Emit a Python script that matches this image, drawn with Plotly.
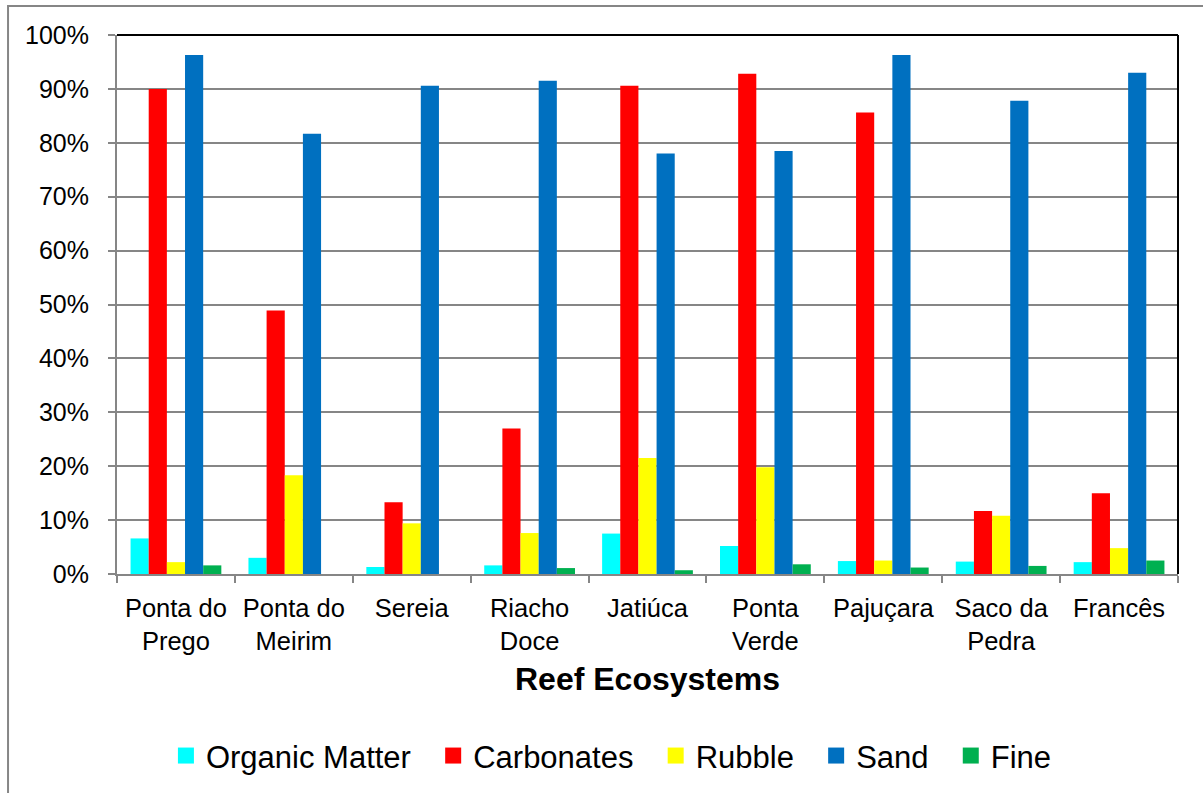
import plotly.graph_objects as go

# Sediment composition of reef ecosystems (percent)
sites = ["Ponta do<br>Prego", "Ponta do<br>Meirim", "Sereia", "Riacho<br>Doce", "Jatiúca",
         "Ponta<br>Verde", "Pajuçara", "Saco da<br>Pedra", "Francês"]

organic_matter = [6.6, 3.0, 1.3, 1.6, 7.5, 5.2, 2.4, 2.3, 2.2]
carbonates = [90.0, 48.9, 13.3, 27.0, 90.6, 92.8, 85.6, 11.7, 15.0]
rubble = [2.2, 18.3, 9.4, 7.6, 21.5, 19.8, 2.5, 10.8, 4.8]
sand = [96.3, 81.7, 90.6, 91.5, 78.0, 78.5, 96.3, 87.8, 93.0]
fine = [1.6, 0.0, 0.0, 1.1, 0.7, 1.8, 1.2, 1.5, 2.5]

series = [
    ("Organic Matter", organic_matter, "#00FFFF"),
    ("Carbonates", carbonates, "#FF0000"),
    ("Rubble", rubble, "#FFFF00"),
    ("Sand", sand, "#0070C0"),
    ("Fine", fine, "#00B050"),
]

FONT = "Arial, Liberation Sans, sans-serif"
GRID = "#868686"
PAD = "\u00a0\u00a0"  # extra room after each legend label

fig = go.Figure()
for i, (name, vals, color) in enumerate(series):
    fig.add_trace(go.Bar(
        x=sites, y=[v / 100 for v in vals], name=name,
        marker=dict(color=color, line=dict(width=0)),
        legendgroup=name, showlegend=False,
    ))
for i, (name, vals, color) in enumerate(series):
    # square swatch for the legend entry of each series
    label = name + (PAD if i < len(series) - 1 else "")
    fig.add_trace(go.Scatter(
        x=[None], y=[None], mode="markers", name=label, legendgroup=name,
        marker=dict(symbol="square", size=17, color=color, line=dict(width=0)),
        hoverinfo="skip",
    ))

fig.update_layout(
    width=1203, height=793,
    margin=dict(l=117, r=25, t=35, b=218),
    paper_bgcolor="white", plot_bgcolor="white",
    barmode="group", bargap=0.23, bargroupgap=0,
    font=dict(family=FONT, color="black"),
    showlegend=True,
    legend=dict(
        orientation="h", x=0.466, xanchor="center", y=-0.335, yanchor="middle",
        font=dict(size=31, family=FONT), itemsizing="trace", tracegroupgap=0,
    ),
    xaxis=dict(
        showline=True, linecolor=GRID, linewidth=2,
        ticks="outside", ticklen=7, tickcolor=GRID, tickwidth=2,
        tickson="boundaries",
        tickfont=dict(size=25.5, family=FONT),
        ticklabelstandoff=10,
        title=dict(text="<b>Reef Ecosystems</b>", font=dict(size=32, family=FONT), standoff=14),
        automargin=False,
    ),
    yaxis=dict(
        range=[0, 1], tickformat=".0%", dtick=0.1,
        showgrid=True, gridcolor=GRID, gridwidth=2,
        showline=True, linecolor=GRID, linewidth=2,
        ticks="outside", ticklen=7, tickcolor=GRID, tickwidth=2,
        tickfont=dict(size=25, family=FONT),
        ticklabelstandoff=14,
        zeroline=False, automargin=False,
    ),
)

# Black frame on the top and right of the plotting area
fig.add_shape(type="line", xref="paper", yref="paper", x0=0, x1=1, y0=1, y1=1,
              line=dict(color="black", width=2))
fig.add_shape(type="line", xref="paper", yref="paper", x0=1, x1=1, y0=0, y1=1,
              line=dict(color="black", width=2))

# Outer chart border
fig.add_shape(type="rect", xref="paper", yref="paper",
              x0=-0.1027, x1=1.2, y0=-0.6, y1=1.0537,
              line=dict(color=GRID, width=2), layer="below")

fig.write_html("out.html")
